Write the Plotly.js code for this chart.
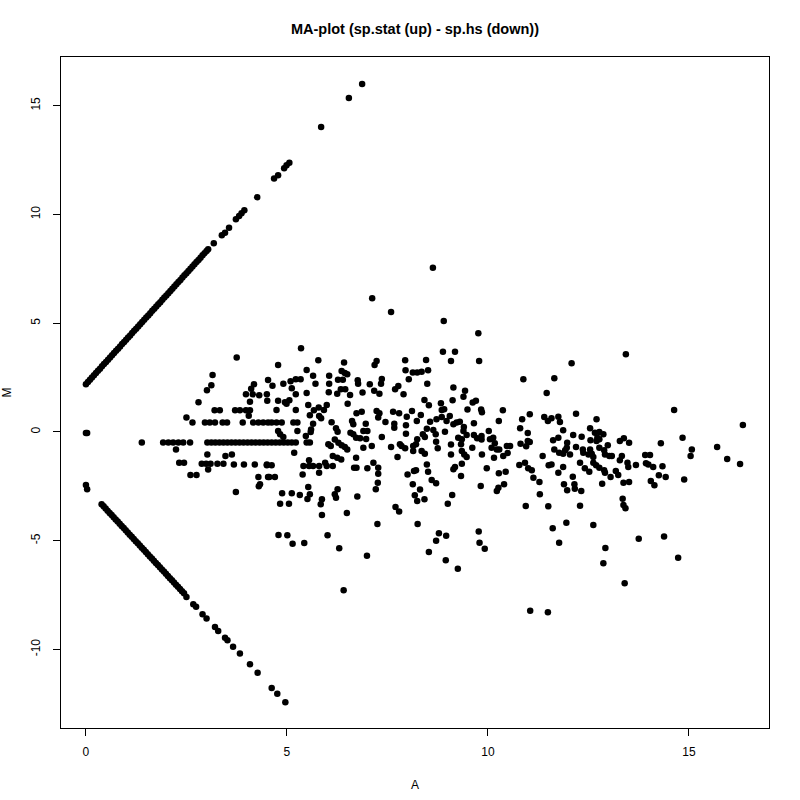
<!DOCTYPE html>
<html>
<head>
<meta charset="utf-8">
<script src="https://cdn.plot.ly/plotly-3.0.1.min.js"></script>
<style>html,body{margin:0;padding:0;background:#fff}#chart{width:800px;height:800px}</style>
</head>
<body>
<div id="chart"></div>
<script>
// ---- data (A = mean log2 expression, M = log2 ratio) ----
const chartTitle = "MA-plot (sp.stat (up) - sp.hs (down))";
const xLabel = "A";
const yLabel = "M";
const xTicks = [0, 5, 10, 15];
const yTicks = [-10, -5, 0, 5, 10, 15];

// genes present only in sp.stat (upper diagonal)
const upOnly = [
[0.00,2.20],[0.05,2.30],[0.10,2.40],[0.15,2.51],[0.20,2.61],[0.25,2.71],[0.30,2.81],[0.35,2.91],[0.40,3.02],[0.45,3.12],
[0.50,3.22],[0.55,3.32],[0.60,3.42],[0.65,3.53],[0.70,3.63],[0.75,3.73],[0.80,3.83],[0.85,3.93],[0.90,4.04],[0.95,4.14],
[1.00,4.24],[1.05,4.34],[1.10,4.44],[1.15,4.55],[1.20,4.65],[1.25,4.75],[1.30,4.85],[1.35,4.95],[1.40,5.06],[1.45,5.16],
[1.50,5.26],[1.55,5.36],[1.60,5.46],[1.65,5.57],[1.70,5.67],[1.75,5.77],[1.80,5.87],[1.85,5.97],[1.90,6.08],[1.95,6.18],
[2.00,6.28],[2.05,6.38],[2.10,6.48],[2.15,6.59],[2.20,6.69],[2.25,6.79],[2.30,6.89],[2.35,6.99],[2.40,7.10],[2.45,7.20],
[2.50,7.30],[2.55,7.40],[2.60,7.50],[2.65,7.61],[2.70,7.71],[2.75,7.81],[2.80,7.91],[2.85,8.01],[2.90,8.12],[2.95,8.22],
[3.00,8.32],[3.04,8.40],[3.18,8.68],[3.38,9.04],[3.46,9.16],[3.56,9.39],[3.73,9.78],[3.81,9.93],[3.87,10.06],[3.94,10.19],
[4.26,10.79],[4.68,11.65],[4.78,11.80],[4.93,12.12],[4.99,12.26],[5.06,12.38],[5.85,14.02],[6.54,15.36],[6.87,16.00]
];

// genes present only in sp.hs (lower diagonal)
const downOnly = [
[0.39,-3.32],[0.44,-3.42],[0.49,-3.52],[0.54,-3.62],[0.59,-3.72],[0.64,-3.82],[0.69,-3.92],[0.74,-4.02],[0.79,-4.12],[0.84,-4.22],
[0.89,-4.32],[0.94,-4.42],[0.99,-4.52],[1.04,-4.62],[1.09,-4.72],[1.14,-4.82],[1.19,-4.92],[1.24,-5.02],[1.29,-5.12],[1.34,-5.22],
[1.39,-5.32],[1.44,-5.42],[1.49,-5.52],[1.54,-5.62],[1.59,-5.72],[1.64,-5.82],[1.69,-5.92],[1.74,-6.02],[1.79,-6.12],[1.84,-6.22],
[1.89,-6.32],[1.94,-6.42],[1.99,-6.52],[2.04,-6.62],[2.09,-6.72],[2.14,-6.82],[2.19,-6.92],[2.24,-7.02],[2.29,-7.12],[2.34,-7.22],
[2.39,-7.32],[2.44,-7.42],[2.50,-7.59],[2.67,-7.92],[2.74,-8.03],[2.90,-8.38],[3.00,-8.57],[3.21,-8.97],[3.29,-9.15],[3.46,-9.46],
[3.52,-9.58],[3.66,-9.87],[3.83,-10.19],[4.08,-10.68],[4.27,-11.07],[4.62,-11.77],[4.76,-12.03],[4.96,-12.43]
];

// genes at A ~ 0
const nearZero = [[0.00,-0.05],[0.03,-0.05],[0.00,-2.44],[0.03,-2.63]];

// central cloud, low A
const cloudLow = [
[3.75,3.42],[3.15,2.62],[3.12,2.15],[3.01,1.92],[2.80,1.37],[4.53,2.39],[4.18,2.19],[4.11,1.99],[3.98,1.73],[4.15,1.73],[4.31,1.69],[4.50,1.73],[4.08,1.39],
[3.20,1.00],[3.33,1.00],[3.71,1.00],[3.83,1.00],[3.98,1.00],[4.08,1.00],[4.05,0.75],[2.50,0.66],[2.65,0.43],
[2.96,0.43],[3.08,0.43],[3.21,0.43],[3.40,0.43],[3.51,0.43],[3.90,0.43],[4.16,0.43],[4.29,0.43],[4.41,0.43],[4.53,0.43],
[1.39,-0.48],[1.92,-0.48],[2.05,-0.48],[2.17,-0.48],[2.30,-0.48],[2.42,-0.48],[2.59,-0.48],[3.02,-0.48],[3.12,-0.48],[3.22,-0.48],
[3.32,-0.48],[3.42,-0.48],[3.52,-0.48],[3.62,-0.48],[3.72,-0.48],[3.82,-0.48],[3.92,-0.48],[4.02,-0.48],[4.12,-0.48],[4.22,-0.48],
[4.32,-0.48],[4.42,-0.48],[4.52,-0.48],
[2.24,-0.80],[3.02,-1.03],[3.47,-1.10],[3.63,-1.04],
[2.32,-1.41],[2.44,-1.41],[2.88,-1.46],[2.99,-1.46],[3.10,-1.46],[3.27,-1.46],[3.42,-1.46],[3.68,-1.50],[3.93,-1.50],[4.20,-1.50],[4.50,-1.50],
[3.04,-1.73],[2.60,-1.98],[2.75,-1.98],[4.29,-2.07],[4.53,-2.07],[4.30,-2.50],[3.73,-2.76]
];

// central cloud, middle A
const cloudMid = [
[5.35,3.85],[4.78,3.08],[5.78,3.30],[6.42,3.20],[5.49,2.85],[5.65,2.59],[6.05,2.59],[6.36,2.80],[6.44,2.71],[6.50,2.65],[7.23,3.26],[7.18,3.08],[7.94,3.30],[7.95,2.84],[8.03,2.42],
[4.64,2.13],[4.91,2.22],[5.09,2.33],[5.22,2.42],[5.34,2.42],[5.12,2.01],[5.71,2.22],[6.05,2.22],[6.27,2.40],[6.39,2.40],[6.76,2.38],[6.77,2.22],[7.06,2.19],[7.36,2.44],[7.34,2.22],[7.77,2.11],[7.69,1.96],
[4.51,1.43],[5.22,1.73],[5.49,1.79],[6.04,1.83],[6.25,1.76],[6.34,1.96],[6.45,1.96],[6.57,1.70],[6.88,1.81],[7.17,1.89],[7.30,1.76],[7.90,1.73],
[4.78,1.43],[4.95,1.37],[5.06,1.46],[4.74,1.01],[4.99,1.30],[5.22,1.01],[5.53,1.24],[5.67,1.00],[5.79,1.12],[5.92,1.01],[5.99,1.24],[6.51,1.30],[6.73,0.86],[6.86,0.93],[7.23,0.97],[7.30,0.86],[7.64,0.93],[7.79,0.86],[7.98,0.70],
[5.57,0.77],[5.80,0.74],[5.85,0.63],[6.11,0.45],[7.27,0.66],
[4.62,0.43],[4.74,0.43],[4.87,0.43],[5.16,0.43],[5.26,0.43],
[5.65,0.38],[6.62,0.51],[6.65,0.35],[6.96,0.38],[7.45,0.46],[7.67,0.38],[7.67,0.20],[7.96,0.31],
[5.60,0.11],[5.59,0.00],[5.26,0.05],[4.78,0.05],[4.83,-0.11],[4.91,-0.23],[6.22,0.17],[6.26,0.01],[6.58,-0.03],[6.65,-0.11],[6.90,0.05],[7.00,0.05],[6.82,-0.29],[6.97,-0.32],[6.72,-0.26],[7.36,-0.23],[7.96,-0.08],[5.47,-0.18],
[4.62,-0.48],[4.72,-0.48],[4.82,-0.48],[4.92,-0.48],[5.02,-0.48],[5.12,-0.48],[5.22,-0.48],[5.49,-0.48],[5.57,-0.48],
[6.03,-0.57],[6.09,-0.64],[6.19,-0.35],[6.28,-0.49],[6.36,-0.61],[6.44,-0.69],[6.50,-0.80],[7.11,-0.64],[6.90,-0.72],[7.59,-0.69],[7.85,-0.64],[7.94,-0.75],
[5.18,-0.95],[7.75,-1.15],[6.72,-1.18],[6.14,-1.10],[6.25,-1.18],[6.35,-1.26],[5.55,-1.30],[5.55,-1.56],[5.41,-1.56],[5.65,-1.56],[5.80,-1.56],[5.95,-1.41],[5.99,-1.56],[6.14,-1.56],[5.80,-1.87],[5.39,-1.96],
[4.50,-1.53],[4.62,-1.53],[4.56,-2.07],[4.70,-2.07],[6.67,-1.64],[6.73,-1.64],[7.00,-1.67],[7.15,-1.41],[7.27,-1.64],[7.27,-1.92],[8.00,-1.96],[7.26,-2.33],[7.21,-2.63],
[4.33,-2.40],[5.53,-2.53],[5.57,-2.86],[5.32,-2.90],[5.12,-2.82],[4.88,-2.82],[6.26,-2.63],[6.19,-2.86],[6.22,-3.02],[5.87,-3.09],[6.75,-2.97],
[5.51,-3.08],[4.83,-3.30],[5.05,-3.30],[5.84,-3.32],[5.87,-3.82],[6.49,-3.72],[7.25,-4.23],[7.70,-3.45],[7.79,-3.66],[8.18,-2.91],[8.24,-3.17],[8.42,-3.09],[9.11,-2.90],[9.00,-3.30],[8.25,-4.23],
[4.79,-4.74],[5.01,-4.75],[5.14,-5.14],[5.43,-5.10],[6.01,-4.75],[6.30,-5.35],[6.99,-5.69],[6.41,-7.28],[8.78,-4.66],[8.96,-4.77],[8.71,-5.00],[8.53,-5.52],[8.95,-5.90],[9.25,-6.29],[9.77,-4.58],[9.79,-5.09],[9.92,-5.37],[10.22,-2.71],
[8.63,7.55],[7.12,6.15],[7.59,5.52],[8.90,5.10],[9.76,4.54]
];

// central cloud, high A
const cloudHigh = [
[8.88,3.69],[9.18,3.69],[9.08,3.26],[9.78,3.26],[8.46,3.31],[8.13,2.73],[8.24,2.73],[8.35,2.77],[8.51,2.84],[8.49,2.22],[10.88,2.42],[11.46,1.79],[9.14,2.04],[9.43,1.89],[9.39,1.62],[8.42,1.47],[8.53,1.23],[9.12,1.46],[8.83,1.32],[8.91,1.04],[8.85,1.01],[9.62,1.35],[9.70,1.43],[9.49,1.03],[9.83,1.03],[9.85,0.91],[10.37,1.00],[8.11,0.97],[8.33,0.78],[8.72,0.58],[8.85,0.69],[9.05,0.74],[8.97,0.51],[8.23,0.51],[8.56,0.47],[9.14,0.35],[9.22,0.43],[9.30,0.47],[9.65,0.40],[10.27,0.51],[10.85,0.58],[11.04,0.81],[11.40,0.69],[11.49,0.51],
[8.48,0.15],[8.64,0.09],[8.70,-0.11],[8.93,0.01],[9.40,0.23],[9.39,0.05],[9.35,-0.34],[8.38,-0.11],[8.43,-0.23],[8.24,-0.34],[9.26,-0.26],[9.47,-0.14],[9.65,-0.14],[9.73,-0.29],[9.84,-0.18],[9.84,-0.35],[10.02,0.05],[10.05,-0.34],[10.13,-0.26],[10.17,-0.52],[10.80,0.17],[10.99,-0.05],[10.99,-0.41],[10.81,-0.54],[10.95,-0.66],[11.04,-0.46],
[7.81,-0.57],[8.14,-0.64],[8.21,-0.57],[8.71,-0.45],[8.75,-0.75],[9.08,-0.58],[9.08,-1.03],[9.33,-0.57],[9.35,-0.87],[9.41,-1.03],[9.47,-1.15],[9.61,-0.72],[10.09,-0.72],[10.22,-0.80],[10.28,-0.80],[10.47,-0.64],[10.55,-0.64],[10.49,-0.97],[10.38,-1.10],[10.15,-1.18],[9.85,-1.03],[11.36,-1.10],[8.14,-0.87],[8.35,-0.87],[8.43,-1.00],
[8.48,-1.49],[8.51,-1.83],[8.60,-2.21],[8.71,-2.36],[9.35,-1.46],[9.18,-1.61],[9.14,-1.71],[9.33,-2.02],[8.21,-1.76],[8.16,-1.79],[9.97,-1.67],[10.27,-1.90],[10.44,-1.83],[10.78,-1.52],[10.92,-1.41],[11.00,-1.67],[11.09,-1.76],[11.13,-2.10],[11.28,-2.30],[11.51,-1.53],[8.13,-2.40],[8.31,-2.65],[9.82,-2.48],[10.40,-2.40],[10.26,-2.56],[11.29,-2.86],
[13.43,3.57],[12.08,3.16],[11.65,2.47],[14.63,1.01],[11.58,0.63],[11.75,0.70],[11.79,0.46],[12.19,0.84],[12.70,0.58],[11.87,0.08],[12.54,0.17],[12.66,-0.03],[12.77,0.00],[12.87,-0.11],[12.72,-0.26],[12.77,-0.34],[12.70,-0.41],[12.12,-0.14],[12.33,-0.22],[11.75,-0.26],[11.62,-0.38],[11.97,-0.49],[11.96,-0.72],[11.92,-0.84],[12.55,-0.38],[12.98,-0.61],[13.28,-0.41],[13.38,-0.29],[13.51,-0.49],[14.30,-0.52],[14.84,-0.26],[15.07,-0.80],[15.04,-1.10],
[11.65,-0.80],[11.77,-0.95],[11.87,-1.00],[12.19,-0.69],[12.36,-0.80],[12.37,-0.95],[12.54,-0.80],[12.58,-1.00],[12.62,-1.15],[12.50,-1.03],[12.77,-0.72],[12.89,-0.84],[12.91,-1.03],[13.02,-1.10],[13.08,-1.10],[12.04,-1.03],[13.33,-1.10],[13.28,-1.30],[13.47,-1.41],[13.68,-1.52],[13.91,-1.06],[14.03,-1.06],[13.93,-1.44],[13.99,-1.49],[14.11,-1.61],[14.34,-1.58],[14.25,-1.99],[14.42,-2.07],[14.05,-2.25],[14.14,-2.45],[14.88,-2.19],
[11.58,-1.49],[11.87,-1.61],[12.29,-1.41],[12.62,-1.41],[12.69,-1.53],[12.77,-1.64],[12.41,-1.67],[12.52,-1.83],[12.89,-1.76],[12.91,-1.87],[13.18,-1.79],[13.24,-1.98],[13.05,-2.07],[13.49,-1.61],[11.75,-1.87],[12.11,-2.06],[11.89,-2.40],[11.97,-2.68],[12.15,-2.40],[12.16,-2.61],[12.32,-2.71],[12.84,-2.38],[13.37,-2.33],[13.51,-2.30],[13.35,-3.07],
[10.94,-3.40],[11.50,-3.42],[12.29,-3.39],[13.37,-3.36],[13.42,-3.51],[11.61,-4.43],[11.95,-4.17],[12.62,-4.28],[11.77,-5.09],[12.92,-5.33],[12.87,-6.04],[13.75,-4.91],[14.38,-4.80],[14.73,-5.78],[13.40,-6.96],[11.05,-8.22],[11.49,-8.29],
[15.70,-0.69],[15.95,-1.24],[16.27,-1.47],[16.34,0.32]
];

// ---- drawing ----
const groups = [upOnly, downOnly, nearZero, cloudLow, cloudMid, cloudHigh];
const FONT = "Liberation Sans, Arial, Helvetica, sans-serif";
const traces = groups.map(g => ({
  type: "scatter",
  mode: "markers",
  x: g.map(p => p[0]),
  y: g.map(p => p[1]),
  marker: {color: "#000000", size: 6.5, line: {width: 0}},
  hoverinfo: "x+y",
  showlegend: false
}));

const axisCommon = {
  showgrid: false,
  zeroline: false,
  showline: true,
  mirror: true,
  linecolor: "#000000",
  linewidth: 1,
  ticks: "outside",
  ticklen: 7,
  tickwidth: 1,
  tickcolor: "#000000",
  tickfont: {family: FONT, size: 12, color: "#000000"},
  automargin: false
};

const layout = {
  width: 800,
  height: 800,
  paper_bgcolor: "#ffffff",
  plot_bgcolor: "#ffffff",
  margin: {l: 61, r: 31, t: 57, b: 72, pad: 0},
  title: {
    text: "<b>" + chartTitle + "</b>",
    font: {family: FONT, size: 14.5, color: "#000000"},
    x: 0.5, xref: "paper", xanchor: "center",
    y: 1 - 29 / 800, yref: "container", yanchor: "middle"
  },
  xaxis: Object.assign({}, axisCommon, {
    range: [-0.62, 16.99],
    tickmode: "array",
    tickvals: xTicks,
    ticktext: xTicks.map(String),
    ticklabelstandoff: 6,
    title: {text: xLabel, font: {family: FONT, size: 12, color: "#000000"}, standoff: 22}
  }),
  yaxis: Object.assign({}, axisCommon, {
    range: [-13.61, 17.24],
    tickmode: "array",
    tickvals: yTicks,
    ticktext: yTicks.map(String),
    tickangle: -90,
    ticklabelstandoff: 8,
    title: {text: yLabel, font: {family: FONT, size: 12, color: "#000000"}, standoff: 16}
  })
};

Plotly.newPlot("chart", traces, layout, {displayModeBar: false, staticPlot: true});
</script>
</body>
</html>
